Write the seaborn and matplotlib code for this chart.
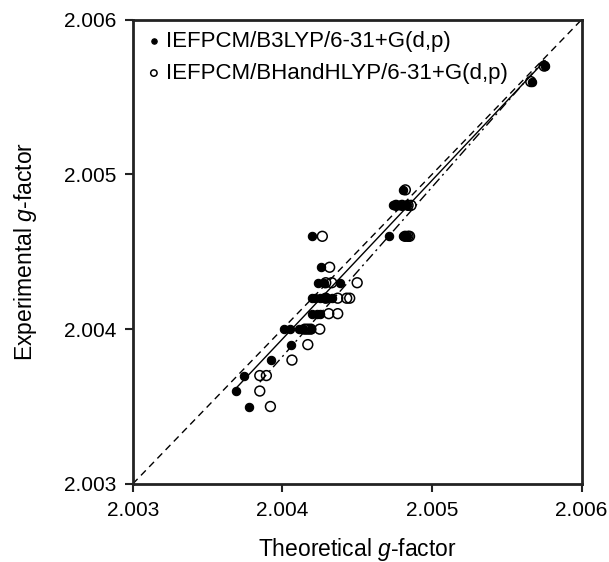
import numpy as np
import pandas as pd
import matplotlib
matplotlib.use("Agg")
import matplotlib.pyplot as plt
import seaborn as sns
from matplotlib.ticker import FormatStrFormatter

# ---- data ----
b3lyp_theo = [2.005756, 2.005667, 2.004807,
              2.004738, 2.004760, 2.004780, 2.004800, 2.004830,
              2.004711, 2.004804, 2.004830,
              2.004200, 2.004260,
              2.004240, 2.004280, 2.004382,
              2.004200, 2.004220, 2.004250, 2.004280, 2.004300, 2.004330,
              2.004200, 2.004230, 2.004250,
              2.004010, 2.004050, 2.004110, 2.004140, 2.004190,
              2.004056, 2.003927, 2.003744, 2.003689, 2.003778]
b3lyp_exp = [2.0057, 2.0056, 2.0049,
             2.0048, 2.0048, 2.0048, 2.0048, 2.0048,
             2.0046, 2.0046, 2.0046,
             2.0046, 2.0044,
             2.0043, 2.0043, 2.0043,
             2.0042, 2.0042, 2.0042, 2.0042, 2.0042, 2.0042,
             2.0041, 2.0041, 2.0041,
             2.0040, 2.0040, 2.0040, 2.0040, 2.0040,
             2.0039, 2.0038, 2.0037, 2.0036, 2.0035]

bhh_theo = [2.005750, 2.005660, 2.004822,
            2.004760, 2.004800, 2.004840, 2.004860,
            2.004267, 2.004820, 2.004840, 2.004850,
            2.004316,
            2.004290, 2.004330, 2.004500,
            2.004290, 2.004370, 2.004430, 2.004450,
            2.004310, 2.004370,
            2.004150, 2.004170, 2.004190, 2.004250,
            2.004170, 2.004064, 2.003849, 2.003893, 2.003849, 2.003920]
bhh_exp = [2.0057, 2.0056, 2.0049,
           2.0048, 2.0048, 2.0048, 2.0048,
           2.0046, 2.0046, 2.0046, 2.0046,
           2.0044,
           2.0043, 2.0043, 2.0043,
           2.0042, 2.0042, 2.0042, 2.0042,
           2.0041, 2.0041,
           2.0040, 2.0040, 2.0040, 2.0040,
           2.0039, 2.0038, 2.0037, 2.0037, 2.0036, 2.0035]

labels = ["IEFPCM/B3LYP/6-31+G(d,p)", "IEFPCM/BHandHLYP/6-31+G(d,p)"]
ticks = [2.003, 2.004, 2.005, 2.006]
diag = [2.003, 2.006]

df = pd.DataFrame({
    "theo": b3lyp_theo + bhh_theo,
    "exp": b3lyp_exp + bhh_exp,
    "method": [labels[0]] * len(b3lyp_theo) + [labels[1]] * len(bhh_theo),
})
d1 = df[df.method == labels[0]]
d2 = df[df.method == labels[1]]

sns.set_theme(style="white")
plt.rcParams["font.family"] = ["Liberation Sans", "DejaVu Sans"]
plt.rcParams["mathtext.fontset"] = "custom"
plt.rcParams["mathtext.it"] = "Liberation Sans:italic"
plt.rcParams["mathtext.rm"] = "Liberation Sans"
plt.rcParams["text.color"] = "black"
plt.rcParams["axes.labelcolor"] = "black"
plt.rcParams["xtick.color"] = "black"
plt.rcParams["ytick.color"] = "black"

fig = plt.figure(figsize=(6.09, 5.62), dpi=100)
ax = fig.add_axes([0.218, 0.139, 0.737, 0.826])

# diagonal y = x
sns.lineplot(x=diag, y=diag, ax=ax, color="black", lw=1.0,
             linestyle=(0, (5, 3.5)), zorder=1)

# regression lines
sns.regplot(data=d1, x="theo", y="exp", ax=ax, scatter=False, ci=None,
            truncate=True, line_kws=dict(color="black", lw=1.0, zorder=2))
sns.regplot(data=d2, x="theo", y="exp", ax=ax, scatter=False, ci=None,
            truncate=True, line_kws=dict(color="black", lw=1.0,
                                         linestyle=(0, (7, 3, 1.5, 3)), zorder=2))

sns.scatterplot(data=d1, x="theo", y="exp", ax=ax, s=36, color="black",
                edgecolor="black", linewidth=0.8, zorder=3, label=labels[0])
sns.scatterplot(data=d2, x="theo", y="exp", ax=ax, s=50, facecolor="none",
                edgecolor="black", linewidth=1.1, zorder=4, label=labels[1])

ax.set_xlim(2.003, 2.006)
ax.set_ylim(2.003, 2.006)
ax.set_xticks(ticks)
ax.set_yticks(ticks)
ax.xaxis.set_major_formatter(FormatStrFormatter("%.3f"))
ax.yaxis.set_major_formatter(FormatStrFormatter("%.3f"))
ax.tick_params(axis="both", direction="out", length=6, width=1.5,
               color="#222222", labelcolor="black", labelsize=15, pad=6,
               bottom=True, left=True)

for sp in ax.spines.values():
    sp.set_linewidth(2.0)
    sp.set_color("#222222")

ax.set_xlabel("Theoretical $g$-factor", fontsize=16.5, labelpad=12, color="black")
ax.set_ylabel("Experimental $g$-factor", fontsize=16.5, labelpad=18, color="black")

leg = ax.legend(loc="upper left", frameon=False, fontsize=16, handletextpad=0.1,
                markerscale=0.65, borderaxespad=0.2, labelspacing=0.5,
                handlelength=0.9, borderpad=0.3)
for t in leg.get_texts():
    t.set_color("black")

fig.savefig("out.png", dpi=100)
